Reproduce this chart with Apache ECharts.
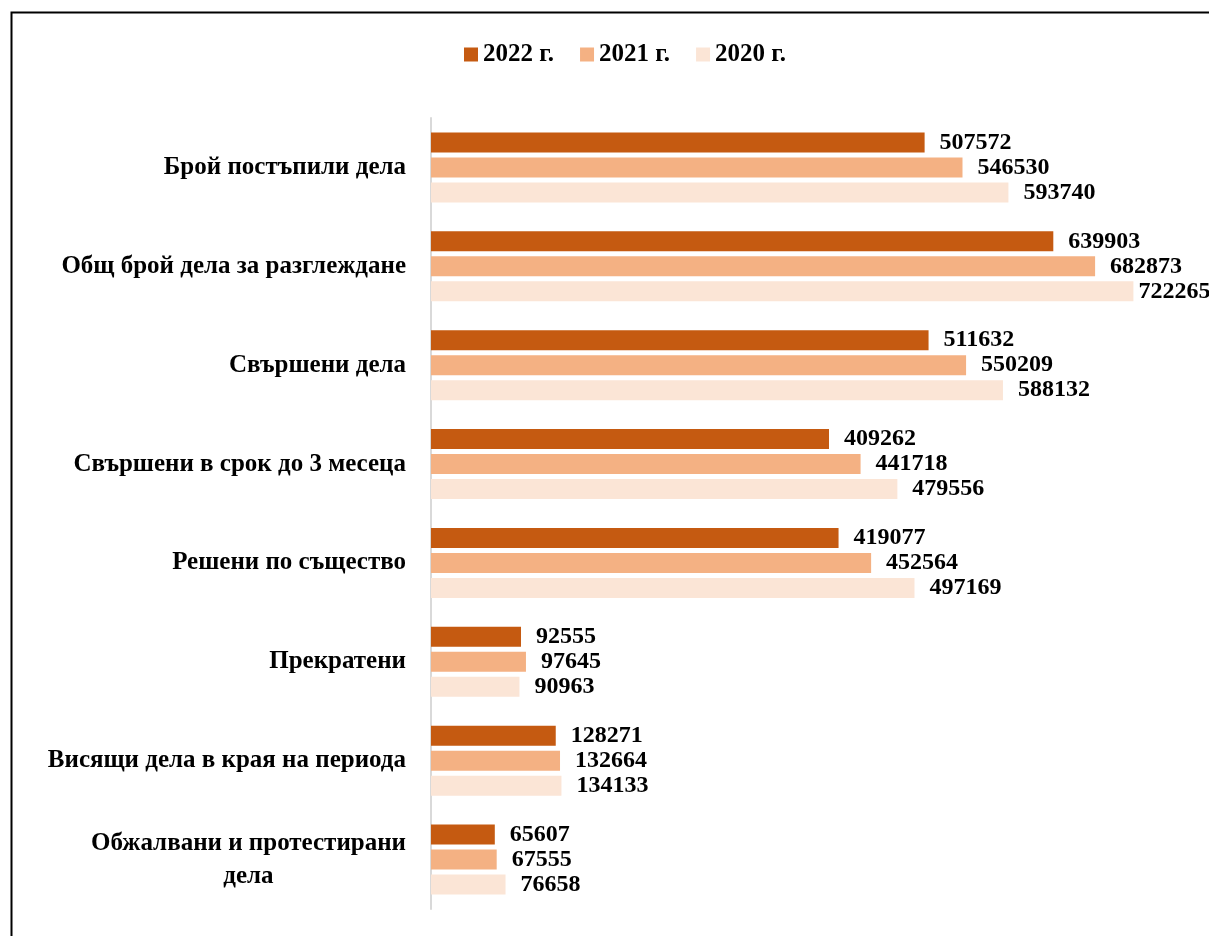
<!DOCTYPE html>
<html>
<head>
<meta charset="utf-8">
<script src="https://cdn.jsdelivr.net/npm/echarts@6/dist/echarts.min.js"></script>
<style>
html,body{margin:0;padding:0;background:#fff;}
#chart{width:1209px;height:936px;}
</style>
</head>
<body>
<div id="chart"></div>
<script>
const categories = [
  'Брой постъпили дела',
  'Общ брой дела за разглеждане',
  'Свършени дела',
  'Свършени в срок до 3 месеца',
  'Решени по същество',
  'Прекратени',
  'Висящи дела в края на периода',
  'Обжалвани и протестирани\nдела'
];
const seriesNames = ['2022 г.', '2021 г.', '2020 г.'];
const values2022 = [507572, 639903, 511632, 409262, 419077, 92555, 128271, 65607];
const values2021 = [546530, 682873, 550209, 441718, 452564, 97645, 132664, 67555];
const values2020 = [593740, 722265, 588132, 479556, 497169, 90963, 134133, 76658];
const colors = ['#C55A11', '#F4B183', '#FBE5D6'];

const FONT = '"Liberation Serif", "DejaVu Serif", serif';
const chart = echarts.init(document.getElementById('chart'), null, {renderer: 'canvas'});

function makeSeries(name, data, color) {
  return {
    name: name,
    type: 'bar',
    // labels near the plot edge are pulled closer to the bar so they fit
    data: data.map(function (v) {
      return v > 700000 ? {value: v, label: {distance: 5}} : v;
    }),
    barWidth: 20,
    barGap: '25%',
    itemStyle: {color: color},
    label: {
      show: true,
      position: 'right',
      distance: 15,
      color: '#000',
      fontFamily: FONT,
      fontWeight: 'bold',
      fontSize: 24
    },
    emphasis: {disabled: true}
  };
}

chart.setOption({
  animation: false,
  backgroundColor: '#fff',
  color: colors,
  legend: {
    top: 37,
    left: 459,
    itemWidth: 14,
    itemHeight: 14,
    itemGap: 26,
    icon: 'rect',
    textStyle: {fontFamily: FONT, fontWeight: 'bold', fontSize: 25, color: '#000'},
    data: seriesNames
  },
  grid: {left: 431, right: 0, top: 118, bottom: 27, containLabel: false},
  xAxis: {
    type: 'value',
    min: 0,
    max: 800000,
    show: false
  },
  yAxis: {
    type: 'category',
    inverse: true,
    data: categories,
    axisLine: {show: true, lineStyle: {color: '#D9D9D9', width: 2}},
    axisTick: {show: false},
    axisLabel: {
      margin: 25,
      color: '#000',
      fontFamily: FONT,
      fontWeight: 'bold',
      fontSize: 25,
      lineHeight: 33,
      formatter: function (v) {
        return v.split('\n').map(function (l) { return '{a|' + l + '}'; }).join('\n');
      },
      rich: {a: {align: 'center', fontFamily: FONT, fontWeight: 'bold', fontSize: 25, color: '#000', lineHeight: 33}}
    }
  },
  graphic: [{
    type: 'rect',
    left: 9, top: 10,
    shape: {width: 1300, height: 1000},
    style: {fill: 'none', stroke: '#000', lineWidth: 2},
    silent: true
  }],
  series: [
    makeSeries(seriesNames[0], values2022, colors[0]),
    makeSeries(seriesNames[1], values2021, colors[1]),
    makeSeries(seriesNames[2], values2020, colors[2])
  ]
});
</script>
</body>
</html>
